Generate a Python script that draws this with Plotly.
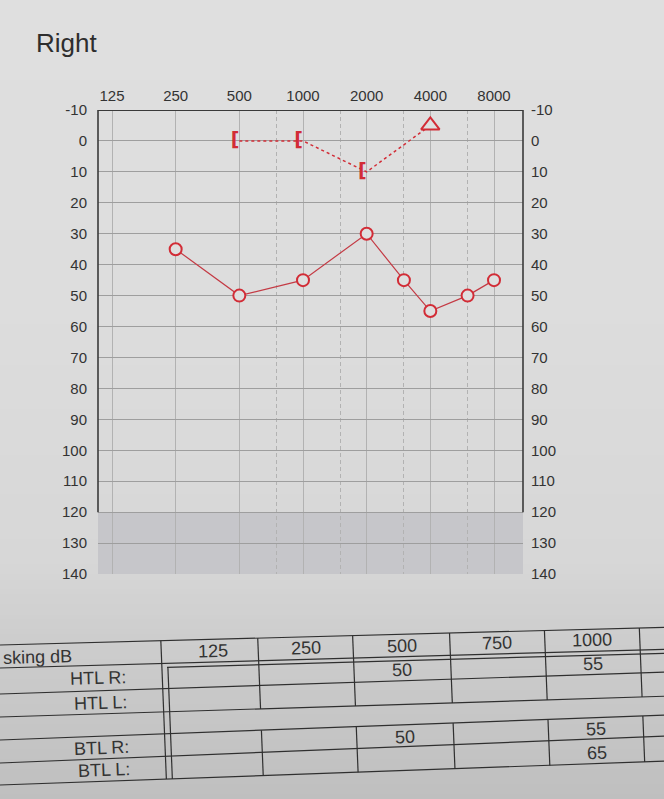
import numpy as np
import plotly.graph_objects as go

W, H = 664, 799

# ---- audiogram, right ear ----
freq_ticks = [125, 250, 500, 1000, 2000, 4000, 8000]
freq_labels = ["125", "250", "500", "1000", "2000", "4000", "8000"]
mid_freqs = [750, 1500, 3000, 6000]
db_ticks = list(range(-10, 150, 10))
db_labels = [str(v) for v in db_ticks]

ac_freqs = [250, 500, 1000, 2000, 3000, 4000, 6000, 8000]
ac_db = [35, 50, 45, 30, 45, 55, 50, 45]

bc_masked_freqs = [500, 1000, 2000]
bc_masked_db = [0, 0, 10]
bc_free_freqs = [4000]
bc_free_db = [-5]

# ---- masking table ----
table_title = "sking dB"
table_cols = ["125", "250", "500", "750", "1000", ""]
row_labels = ["HTL R:", "HTL L:", "", "BTL R:", "BTL L:"]
htl_r = ["", "", "50", "", "55", ""]
htl_l = ["", "", "", "", "", ""]
blank = ["", "", "", "", "", ""]
btl_r = ["", "", "50", "", "55", ""]
btl_l = ["", "", "", "", "65", ""]
table_rows = [htl_r, htl_l, blank, btl_r, btl_l]

RED = "#d22c36"
LINE_RED = "#c43a44"
MARK_FILL = "#dfdfdf"
INK = "#333333"
FONT = "Liberation Sans"

# plot frame in pixels
PL, PR, PT, PB = 98, 523, 110, 574
octave_px = (494 - 112) / 6.0
xr = [np.log10(125) - 14 / octave_px * np.log10(2),
      np.log10(8000) + 29 / octave_px * np.log10(2)]


def px(x):
    return x / W


def py(y):
    return 1 - y / H


fig = go.Figure()

# sheet background, a little darker toward the bottom
stops_y = [0, 300, 560, 640, 799]
stops_g = [223, 221, 215, 205, 191]
n_bands = 160
for i in range(n_bands):
    y0 = H * i / n_bands
    y1 = H * (i + 1) / n_bands + 1
    g = float(np.interp((y0 + y1) / 2, stops_y, stops_g))
    fig.add_shape(type="rect", xref="paper", yref="paper",
                  x0=0, x1=1, y0=py(min(y1, H)), y1=py(y0),
                  fillcolor=f"rgb({g:.1f},{g:.1f},{g:.1f})", line_width=0, layer="below")

# grey band for the out-of-range levels
fig.add_shape(type="rect", xref="x domain", yref="y", x0=0, x1=1, y0=120, y1=140,
              fillcolor="#c6c6ca", line_width=0, layer="below")

# chart frame: top, left and right borders down to 120 dB
fig.add_shape(type="line", xref="x domain", yref="y", x0=0, x1=1, y0=-10, y1=-10,
              line=dict(color="#3a3a3a", width=2.2))
for xd in (0, 1):
    fig.add_shape(type="line", xref="x domain", yref="y", x0=xd, x1=xd, y0=-10, y1=120,
                  line=dict(color="#3a3a3a", width=1.6))

# bone conduction (dashed link), masked brackets and unmasked triangle
fig.add_trace(go.Scatter(
    x=bc_masked_freqs + bc_free_freqs, y=bc_masked_db + bc_free_db,
    mode="lines", line=dict(color=RED, width=1.5, dash="3px,3px"), hoverinfo="skip"))
fig.add_trace(go.Scatter(
    x=bc_masked_freqs, y=bc_masked_db, mode="text", text=["["] * len(bc_masked_freqs),
    textposition="middle left",
    textfont=dict(family="DejaVu Sans", size=19, color=RED, weight="bold")))
fig.add_trace(go.Scatter(
    x=bc_free_freqs, y=bc_free_db, mode="markers",
    marker=dict(symbol="triangle-up", size=16, color=MARK_FILL, line=dict(color=RED, width=2))))

# air conduction
fig.add_trace(go.Scatter(
    x=ac_freqs, y=ac_db, mode="lines+markers",
    line=dict(color=LINE_RED, width=1.2),
    marker=dict(symbol="circle", size=12, color=MARK_FILL, line=dict(color=RED, width=2))))

# anchor trace for the right-hand dB scale
fig.add_trace(go.Scatter(x=[None], y=[None], yaxis="y2", hoverinfo="skip"))

tickfont = dict(family=FONT, size=15, color=INK)
fig.update_layout(
    width=W, height=H, margin=dict(l=0, r=0, t=0, b=0),
    paper_bgcolor="#dedede", plot_bgcolor="rgba(0,0,0,0)", showlegend=False,
    xaxis=dict(type="log", range=xr, domain=[px(PL), px(PR)], side="top", anchor="y",
               tickmode="array", tickvals=freq_ticks, ticktext=freq_labels,
               showgrid=True, gridcolor="#b2b2b2", gridwidth=1, zeroline=False,
               showline=False, ticks="", ticklabelstandoff=5, tickfont=tickfont,
               minor=dict(tickmode="array", tickvals=mid_freqs, showgrid=True,
                          griddash="4px,3px", gridcolor="#b2b2b2", gridwidth=1, ticks=""),
               automargin=False, fixedrange=True),
    yaxis=dict(range=[140, -10], domain=[py(PB), py(PT)], anchor="x",
               tickmode="array", tickvals=db_ticks, ticktext=db_labels,
               showgrid=True, gridcolor="#9e9e9e",
               gridwidth=1, zeroline=False, showline=False, ticks="",
               ticklabelstandoff=10, tickfont=tickfont, automargin=False, fixedrange=True),
    yaxis2=dict(range=[140, -10], overlaying="y", side="right", anchor="x",
                tickmode="array", tickvals=db_ticks, ticktext=db_labels,
                showgrid=False, zeroline=False,
                showline=False, ticks="", ticklabelstandoff=7, tickfont=tickfont,
                automargin=False, fixedrange=True),
    annotations=[dict(text="Right", xref="paper", yref="paper", x=px(34), y=py(43),
                      xanchor="left", yanchor="middle", showarrow=False,
                      font=dict(family=FONT, size=26, color="#2e2e2e"))],
)

# ---- masking table (sheet is tilted and slightly curled) ----
X_REF = 640.0
edges_left = [645, 668, 694, 717, 740, 763, 785]    # row rules at x = 0
edges_right = [628, 650, 673, 697, 716, 737, 762]   # row rules at x = 640
col_edges = [161, 258, 353, 450, 545, 640]          # column rules at the top
LEAN = 0.04                                          # x drift per pixel downward
TOP = edges_left[0]
TLINE = dict(color="#2f2f2f", width=1.2)


def ty(k, x, offset=0.0):
    """y of row rule k (fractional allowed) at horizontal position x."""
    yl = np.interp(k, range(len(edges_left)), edges_left)
    yr = np.interp(k, range(len(edges_right)), edges_right)
    return float(yl + (yr - yl) * x / X_REF + offset)


def tx(x_top, y):
    return x_top + LEAN * (y - TOP)


def seg(x0, y0, x1, y1):
    fig.add_shape(type="line", xref="paper", yref="paper",
                  x0=px(x0), y0=py(y0), x1=px(x1), y1=py(y1), line=TLINE)


# horizontal rules
for k in range(len(edges_left)):
    seg(0, ty(k, 0), W, ty(k, W))
    if k == 1:  # double rule under the header
        xs = col_edges[0] + 6
        seg(xs, ty(k, xs, 4), W, ty(k, W, 4))

# double rule after the label column
y_top, y_bot = ty(0, 161), ty(6, 166)
seg(tx(161, y_top), y_top, tx(161, y_bot), y_bot)
y_top2 = ty(1, 167, 4)
seg(tx(167, y_top2), y_top2, tx(167, y_bot), y_bot)

# column rules: header + HTL block, then BTL block (blank row is merged)
for xc in col_edges[1:]:
    for (ra, rb) in ((0, 3), (4, 6)):
        ya, yb = ty(ra, xc), ty(rb, xc)
        seg(tx(xc, ya), ya, tx(xc, yb), yb)

cell_font = dict(family=FONT, size=18, color=INK)


def cell_text(text, xc, krow, anchor="center"):
    y = ty(krow, xc)
    ang = float(np.degrees(np.arctan((ty(krow, X_REF) - ty(krow, 0)) / X_REF)))
    fig.add_annotation(text=text, xref="paper", yref="paper", x=px(tx(xc, y)), y=py(y),
                       xanchor=anchor, yanchor="middle", showarrow=False,
                       textangle=ang, font=cell_font)


# header
cell_text(table_title, 0, 0.5, "left")
centers = [(col_edges[i] + col_edges[i + 1]) / 2 + (3 if i == 0 else 0)
           for i in range(len(col_edges) - 1)] + [(col_edges[-1] + W + 40) / 2]
for c, label in zip(centers, table_cols):
    if label:
        cell_text(label, c, 0.5)

# body rows
for r, (lab, vals) in enumerate(zip(row_labels, table_rows)):
    krow = r + 1.55
    if lab:
        cell_text(lab, 127, krow, "right")
    for c, v in zip(centers, vals):
        if v:
            cell_text(v, c, krow)

fig.write_html("out.html")
